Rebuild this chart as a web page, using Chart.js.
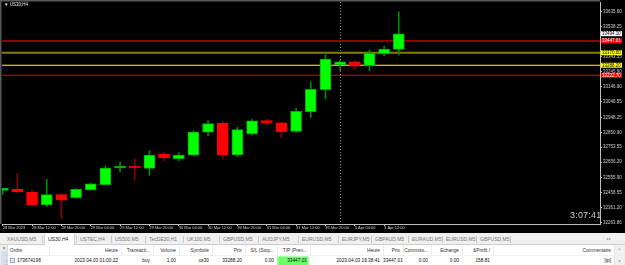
<!DOCTYPE html>
<html>
<head>
<meta charset="utf-8">
<script src="https://cdn.jsdelivr.net/npm/chart.js@4.4.0/dist/chart.umd.min.js"></script>
<style>
html, body { margin: 0; padding: 0; background: #000; width: 625px; height: 265px; overflow: hidden; font-family: "Liberation Sans", Arial, sans-serif; }
#c { position: absolute; left: 0; top: 0; }
.half { position: absolute; transform: scale(0.5); transform-origin: 0 0; white-space: nowrap; }
#title { left: 4px; top: 2px; color: #e8e8e8; font-size: 9px; }
#clock { position: absolute; left: 570px; top: 210px; color: #c8c8c8; font-size: 9px; letter-spacing: 0.2px; }
#panel { left: 0; top: 233px; width: 1250px; height: 64px; background: #f0f0f0; overflow: hidden; }
</style>
</head>
<body>
<canvas id="c" width="625" height="233"></canvas>
<div id="title" class="half">&#9660; US30,H4</div>
<div id="clock">3:07:41</div>
<div id="panel" class="half"></div>
<script>
// US30 H4 candles, 28 Mar 04:00 -> 3 Apr 12:00
let opens  = [32472, 32479, 32461, 32379, 32444, 32424, 32475, 32509, 32618, 32622, 32616, 32709, 32679, 32701,
              32851, 32910, 32703, 32840, 32927, 32912, 32857, 32985, 33129, 33290, 33311, 33285, 33364, 33392]
let highs  = [32486, 32583, 32475, 32544, 32448, 32483, 32520, 32631, 32657, 32677, 32731, 32718, 32718, 32861,
              32927, 32923, 32884, 32936, 32936, 32915, 33008, 33179, 33357, 33318, 33316, 33388, 33414, 33636]
let lows   = [32446, 32457, 32370, 32366, 32287, 32418, 32473, 32505, 32592, 32540, 32570, 32666, 32666, 32701,
              32829, 32681, 32692, 32833, 32900, 32816, 32848, 32949, 33070, 33251, 33262, 33253, 33349, 33355]
let closes = [32476, 32463, 32379, 32444, 32409, 32479, 32514, 32618, 32622, 32618, 32703, 32683, 32703, 32853,
              32907, 32703, 32868, 32925, 32914, 32855, 32988, 33131, 33329, 33311, 33283, 33366, 33394, 33494]

let xTickIdx = [0, 2, 4, 6, 8, 10, 12, 14, 16, 18, 20, 22, 24, 26]
let xTickLabels = ['28 Mar 2023', '28 Mar 12:00', '28 Mar 20:00', '29 Mar 04:00', '29 Mar 12:00', '29 Mar 20:00',
                   '30 Mar 04:00', '30 Mar 12:00', '30 Mar 20:00', '31 Mar 04:00', '31 Mar 12:00', '31 Mar 20:00',
                   '3 Apr 04:00', '3 Apr 12:00']
let yTicks = [33635.60, 33538.25, 33440.90, 33343.55, 33245.90, 33146.90, 33048.55, 32948.25, 32850.90,
              32753.55, 32656.20, 32555.90, 32458.55, 32361.20, 32263.86]

// horizontal lines (take profit, level, open price, level)
let levelPrices = [33447.01, 33370.00, 33288.20, 33222.70]
let levelColors = ['#900000', '#808000', '#ffff00', '#e00000']
let levelWidths = [2, 2, 1, 1]
let bidPrice = 33494.10
let separatorIdx = 23

let tabs = ['XAUUSD,M5', 'US30,H4', 'USTEC,H4', 'US500,M5', 'TecDE30,H1', 'UK100,M5', 'GBPUSD,M5', 'AUDJPY,M5',
            'EURUSD,M5', 'EURJPY,M5', 'GBPAUD,M5', 'EURAUD,M5', 'EURUSD,M5', 'GBPUSD,M5']
let headers = ['Ordre', 'Heure', 'Transacti...', 'Volume', 'Symbole', 'Prix', 'S/L (Stop...', 'T/P (Pren...',
               'Heure', 'Prix', 'Commiss...', 'Echange', '&Profit  /', 'Commentaire']
let orderRow = ['173674198', '2023.04.03 01:00:22', 'buy', '1.00', 'us30', '33288.20', '0.00', '33447.01',
                '2023.04.03 16:38:41', '33447.01', '0.00', '0.00', '158.81', '[tp]']


function start() {
    let bodies = []
    let wicks = []
    let bodyColors = []
    let bodyBorders = []
    let wickColors = []
    for (let i = 0; i < opens.length; i++) {
        bodies.push({x: i, y: [opens[i], closes[i]]})
        wicks.push({x: i, y: [lows[i], highs[i]]})
        let up = closes[i] >= opens[i]
        bodyColors.push(up ? '#00ff00' : '#ff0000')
        bodyBorders.push(up ? '#00b000' : '#ff0000')
        wickColors.push(up ? '#008c00' : '#8c0000')
    }

    let datasets = [{
        type: 'bar',
        data: bodies,
        backgroundColor: bodyColors,
        borderColor: bodyBorders,
        borderWidth: 1,
        borderSkipped: false,
        barThickness: 11,
        minBarLength: 2,
        grouped: false,
        order: 1
    }, {
        type: 'bar',
        data: wicks,
        backgroundColor: wickColors,
        barThickness: 1,
        grouped: false,
        order: 2
    }]
    for (let k = 0; k < levelPrices.length; k++) {
        datasets.push({
            type: 'line',
            data: [{x: -1, y: levelPrices[k]}, {x: 45, y: levelPrices[k]}],
            borderColor: levelColors[k],
            borderWidth: levelWidths[k],
            pointRadius: 0,
            order: 3
        })
    }

    const frame = {
        id: 'frame',
        beforeDatasetsDraw(chart) {
            const ctx = chart.ctx
            const a = chart.chartArea
            const x = Math.round(chart.scales.x.getPixelForValue(separatorIdx)) + 0.5
            ctx.save()
            ctx.strokeStyle = '#8a8a8a'
            ctx.lineWidth = 1
            ctx.setLineDash([1, 2])
            ctx.beginPath()
            ctx.moveTo(x, a.top)
            ctx.lineTo(x, a.bottom)
            ctx.stroke()
            ctx.restore()
        },
        afterDraw(chart) {
            const ctx = chart.ctx
            const a = chart.chartArea
            const y = chart.scales.y
            ctx.save()
            ctx.fillStyle = '#5a5a5a'
            ctx.fillRect(0, 0, a.right, 1.5)
            ctx.fillRect(0, 0, 1.5, a.bottom)

            let boxes = [{p: bidPrice, bg: '#ffffff', fg: '#000000'}]
            let boxBg = ['#ff0000', '#ffff00', '#ffff00', '#ff0000']
            let boxFg = ['#ffffff', '#000000', '#000000', '#ffffff']
            for (let k = 0; k < levelPrices.length; k++) {
                boxes.push({p: levelPrices[k], bg: boxBg[k], fg: boxFg[k]})
            }
            ctx.font = '4.5px "Liberation Sans"'
            ctx.textBaseline = 'middle'
            for (const b of boxes) {
                const py = y.getPixelForValue(b.p)
                ctx.fillStyle = b.bg
                ctx.fillRect(a.right + 1, py - 2.5, 21, 5)
                ctx.fillStyle = b.fg
                ctx.fillText(b.p.toFixed(2), a.right + 2, py + 0.3)
            }
            ctx.restore()
        }
    }

    new Chart(document.getElementById('c').getContext('2d'), {
        type: 'bar',
        data: {datasets: datasets},
        plugins: [frame],
        options: {
            responsive: false,
            animation: false,
            devicePixelRatio: 1,
            layout: {padding: {left: 2, top: 2, right: 0, bottom: 0}},
            plugins: {legend: {display: false}, tooltip: {enabled: false}},
            scales: {
                x: {
                    type: 'linear',
                    min: -0.048,
                    max: 40.716,
                    offset: false,
                    grid: {display: true, drawOnChartArea: false, tickLength: 2, color: '#c0c0c0', offset: false},
                    border: {display: true, color: '#c0c0c0', width: 1},
                    afterBuildTicks: s => { s.ticks = xTickIdx.map(v => ({value: v})) },
                    afterFit: s => { s.height = 9; s.paddingLeft = 0; s.paddingRight = 0 },
                    ticks: {
                        autoSkip: false,
                        maxRotation: 0,
                        align: 'start',
                        padding: 0,
                        color: '#d0d0d0',
                        font: {family: 'Liberation Sans', size: 4, lineHeight: 1},
                        callback: (v) => xTickLabels[xTickIdx.indexOf(v)]
                    }
                },
                y: {
                    type: 'linear',
                    position: 'right',
                    min: 32252.77,
                    max: 33700.82,
                    grid: {display: true, drawOnChartArea: false, tickLength: 2, color: '#c0c0c0'},
                    border: {display: true, color: '#c0c0c0', width: 1},
                    afterBuildTicks: s => { s.ticks = yTicks.map(v => ({value: v})) },
                    afterFit: s => { s.width = 25; s.paddingTop = 0; s.paddingBottom = 0 },
                    ticks: {
                        autoSkip: false,
                        padding: 1,
                        color: '#d0d0d0',
                        font: {family: 'Liberation Sans', size: 4.5, lineHeight: 1},
                        callback: v => v.toFixed(2)
                    }
                }
            }
        }
    })
}


// terminal panel, built at twice the size and scaled down by half
const S = 2
function box(parent, x, y, w, h, css, text) {
    const d = document.createElement('div')
    d.style.cssText = 'position:absolute;left:' + x * S + 'px;top:' + y * S + 'px;width:' + w * S + 'px;height:' +
        h * S + 'px;line-height:' + h * S + 'px;box-sizing:border-box;' + (css || '')
    if (text != null) d.textContent = text
    parent.appendChild(d)
    return d
}

function buildPanel() {
    const p = document.getElementById('panel')
    let tabX = [7, 48, 80, 115, 149, 187, 223, 262, 302, 342, 375, 412, 446, 480]
    let colEdges = [8, 49, 121, 153, 179, 212, 245, 277, 310, 383, 403, 431, 462, 493, 614]

    box(p, 0, 0, 625, 12, 'background:#f0f0f0;border-bottom:1px solid #a8a8a8')
    box(p, 44, 0, 31, 12.5, 'background:#ffffff;border:1px solid #a8a8a8;border-top:none;border-bottom:none')
    for (let i = 0; i < tabs.length; i++) {
        box(p, tabX[i], 0, 36, 12, 'font-size:10px;color:' + (i == 1 ? '#202020' : '#767676'), tabs[i])
        if (i > 1) box(p, tabX[i] - 4, 3, 0.5, 7, 'background:#a0a0a0')
    }
    box(p, 42, 3, 0.5, 7, 'background:#a0a0a0')
    box(p, tabX[tabs.length - 1] + 30, 3, 0.5, 7, 'background:#a0a0a0')
    box(p, 606, 0, 16, 12, 'font-size:8px;color:#909090', '\u25C2 \u25B8')

    box(p, 8, 12, 606, 11, 'background:#ffffff;border-bottom:1px solid #e4e4e4')
    box(p, 8, 23, 606, 10, 'background:#ffffff')
    box(p, 277.5, 23.5, 31, 8.5, 'background:#6cff6c')
    for (let j = 0; j < headers.length; j++) {
        const l = colEdges[j], r = colEdges[j + 1]
        if (j > 0) box(p, l, 12.5, 0.5, 10, 'background:#d8d8d8')
        if (j == 0) {
            box(p, 10, 12, r - l, 11, 'font-size:9.5px;color:#303030', headers[j])
            box(p, 10, 25, 5, 5, 'background:#dfe8f4;border:1px solid #6080a8')
            box(p, 17, 23, r - 17, 9, 'font-size:9.5px;color:#101010', orderRow[j])
        } else {
            box(p, l, 12, r - l - 3, 11, 'font-size:9.5px;color:#303030;text-align:right', headers[j])
            box(p, l, 23, r - l - 3, 9, 'font-size:9.5px;color:#101010;text-align:right', orderRow[j])
        }
    }

    box(p, 0, 12, 8, 21, 'background:#ececec;border-right:1px solid #c8c8c8')
    box(p, 1.5, 12, 5, 6, 'font-size:9px;color:#404040;text-align:center', '\u00D7')
    box(p, 1, 18.5, 6, 14, 'background:#d4dff0;font-size:7px;color:#40608a;writing-mode:vertical-rl;transform:rotate(180deg);overflow:hidden', 'Bo\u00EEte \u00E0 outils')
    box(p, 614, 12, 11, 21, 'background:#f0f0f0;border-left:1px solid #d8d8d8')
    box(p, 614, 12, 11, 10, 'font-size:8px;color:#505050;text-align:center', '^')
    box(p, 614, 23, 11, 9, 'font-size:8px;color:#505050;text-align:center', 'v')
}

start()
buildPanel()
</script>
</body>
</html>
